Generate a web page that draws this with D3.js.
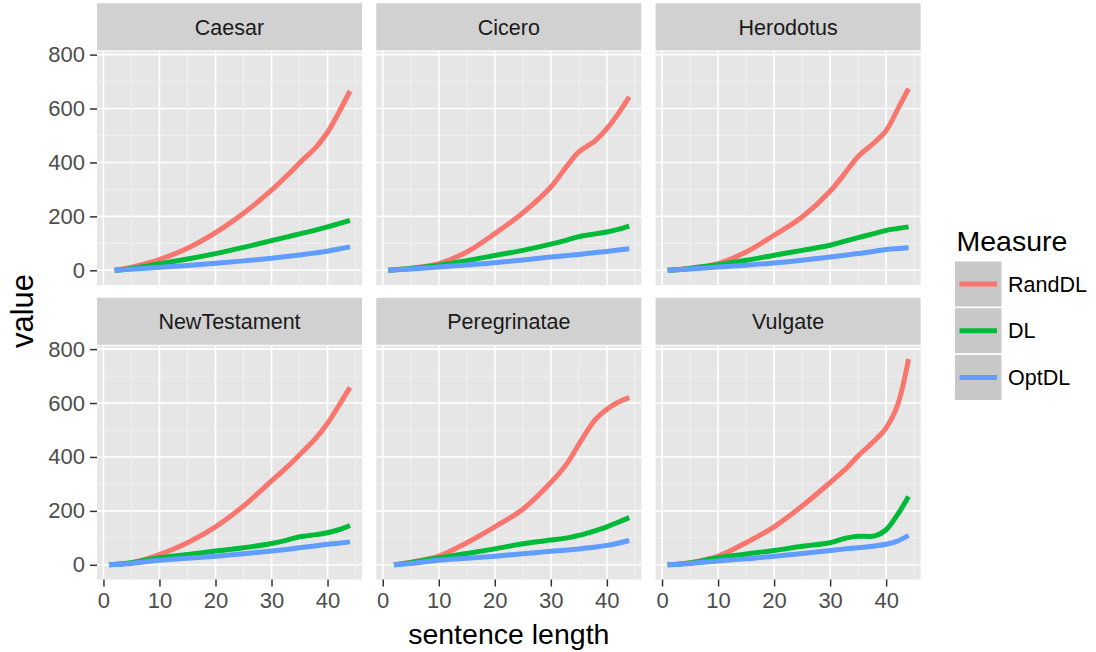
<!DOCTYPE html>
<html>
<head>
<meta charset="utf-8">
<script src="https://cdn.jsdelivr.net/npm/d3@7"></script>
<style>
  body { margin: 0; background: #fff; }
  text { font-family: "Liberation Sans", Arial, Helvetica, sans-serif; }
</style>
</head>
<body>
<div id="chart"></div>
<script>
// texts (facets) and measures
var texts = ['Caesar', 'Cicero', 'Herodotus', 'NewTestament', 'Peregrinatae', 'Vulgate'];
var measures = ['RandDL', 'DL', 'OptDL'];
var colors = ['#F8766D', '#00BA38', '#619CFF'];

var startLen = [2, 1, 1, 1, 2, 1];
var lengths = [null, 5, 10, 15, 20, 25, 30, 33, 35, 38, 40, 42, 44];

var randDL = [
  [0, 12, 40, 82, 140, 212, 297, 356, 398, 458, 512, 585, 665],
  [0, 8, 25, 68, 136, 213, 309, 390, 439, 482, 525, 580, 643],
  [0, 8, 25, 68, 130, 198, 293, 370, 422, 476, 518, 595, 674],
  [0, 8, 38, 82, 141, 218, 311, 367, 408, 472, 525, 590, 658],
  [0, 10, 32, 82, 141, 206, 305, 379, 447, 540, 577, 603, 620],
  [0, 8, 32, 82, 141, 218, 305, 360, 404, 462, 508, 590, 763]
];
var dl = [
  [0, 7, 24, 42, 62, 85, 110, 125, 135, 150, 161, 173, 185],
  [0, 7, 19, 36, 55, 74, 97, 113, 125, 135, 142, 152, 164],
  [0, 7, 21, 37, 56, 74, 93, 110, 121, 137, 148, 155, 161],
  [0, 8, 26, 38, 51, 63, 79, 93, 104, 112, 119, 130, 146],
  [0, 8, 26, 42, 59, 78, 92, 100, 109, 127, 141, 158, 175],
  [0, 7, 26, 40, 53, 69, 82, 100, 106, 107, 130, 185, 253]
];
var optDL = [
  [0, 4, 11, 18, 26, 35, 45, 52, 57, 65, 71, 79, 87],
  [0, 5, 12, 20, 28, 38, 49, 55, 59, 66, 70, 75, 80],
  [0, 5, 12, 19, 27, 37, 49, 57, 62, 71, 77, 81, 84],
  [0, 5, 17, 24, 32, 41, 51, 58, 63, 71, 76, 80, 85],
  [0, 5, 17, 24, 32, 41, 50, 55, 59, 66, 72, 80, 90],
  [0, 5, 14, 22, 32, 42, 53, 60, 63, 70, 76, 88, 109]
];
var series = [randDL, dl, optDL];

var xTicks = [0, 10, 20, 30, 40];
var xMinor = [5, 15, 25, 35, 45];
var yTicks = [0, 200, 400, 600, 800];
var yMinor = [100, 300, 500, 700];

var width = 1096, height = 652;
var panelW = 265, panelH = 233.5, stripH = 47;
var colX = [97, 376.3, 655.6];
var rowY = [51.5, 346];

var svg = d3.select('#chart').append('svg')
  .attr('width', width)
  .attr('height', height);

var x = d3.scaleLinear().domain([-1.15, 46.15]).range([0, panelW]);
var y = d3.scaleLinear().domain([-54.5, 811.5]).range([panelH, 0]);

var line = d3.line()
  .x(function(d) { return x(d[0]); })
  .y(function(d) { return y(d[1]); })
  .curve(d3.curveCatmullRom.alpha(0.5));

texts.forEach(function(name, i) {
  var col = i % 3, row = Math.floor(i / 3);
  var g = svg.append('g').attr('transform', 'translate(' + colX[col] + ',' + rowY[row] + ')');

  // strip
  g.append('rect')
    .attr('x', 0).attr('y', -stripH - 1.2)
    .attr('width', panelW).attr('height', stripH)
    .attr('fill', '#d1d1d1');
  g.append('text')
    .attr('x', panelW / 2).attr('y', -stripH / 2 - 1.2)
    .attr('dy', '0.36em')
    .attr('text-anchor', 'middle')
    .attr('font-size', 21.5)
    .attr('fill', '#1a1a1a')
    .text(name);

  // panel
  g.append('rect')
    .attr('width', panelW).attr('height', panelH)
    .attr('fill', '#e6e6e6');

  g.selectAll('.xminor').data(xMinor).enter().append('line')
    .attr('x1', function(d) { return x(d); }).attr('x2', function(d) { return x(d); })
    .attr('y1', 0).attr('y2', panelH)
    .attr('stroke', '#f4f4f4').attr('stroke-width', 0.8);
  g.selectAll('.yminor').data(yMinor).enter().append('line')
    .attr('y1', function(d) { return y(d); }).attr('y2', function(d) { return y(d); })
    .attr('x1', 0).attr('x2', panelW)
    .attr('stroke', '#f4f4f4').attr('stroke-width', 0.8);
  g.selectAll('.xmajor').data(xTicks).enter().append('line')
    .attr('x1', function(d) { return x(d); }).attr('x2', function(d) { return x(d); })
    .attr('y1', 0).attr('y2', panelH)
    .attr('stroke', '#fff').attr('stroke-width', 1.6);
  g.selectAll('.ymajor').data(yTicks).enter().append('line')
    .attr('y1', function(d) { return y(d); }).attr('y2', function(d) { return y(d); })
    .attr('x1', 0).attr('x2', panelW)
    .attr('stroke', '#fff').attr('stroke-width', 1.6);

  // curves
  series.forEach(function(s, k) {
    var pts = s[i].map(function(v, j) { return [j === 0 ? startLen[i] : lengths[j], v]; });
    g.append('path')
      .datum(pts)
      .attr('d', line)
      .attr('fill', 'none')
      .attr('stroke', colors[k])
      .attr('stroke-width', 5);
  });

  // axes
  if (col === 0) {
    var ya = g.append('g').call(d3.axisLeft(y).tickValues(yTicks).tickSize(7).tickPadding(5));
    ya.select('.domain').remove();
    ya.selectAll('line').attr('stroke', '#333').attr('stroke-width', 1.5);
    ya.selectAll('text').attr('font-size', 22).attr('fill', '#4d4d4d')
      .attr('font-family', '"Liberation Sans", Arial, sans-serif');
  }
  if (row === 1) {
    var xa = g.append('g').attr('transform', 'translate(0,' + panelH + ')')
      .call(d3.axisBottom(x).tickValues(xTicks).tickSize(7).tickPadding(6));
    xa.select('.domain').remove();
    xa.selectAll('line').attr('stroke', '#333').attr('stroke-width', 1.5);
    xa.selectAll('text').attr('font-size', 22).attr('fill', '#4d4d4d')
      .attr('font-family', '"Liberation Sans", Arial, sans-serif');
  }
});

// axis titles
svg.append('text')
  .attr('x', (colX[0] + colX[2] + panelW) / 2).attr('y', 644)
  .attr('text-anchor', 'middle')
  .attr('font-size', 28.5)
  .attr('fill', '#000')
  .text('sentence length');

svg.append('text')
  .attr('transform', 'translate(33,311) rotate(-90)')
  .attr('text-anchor', 'middle')
  .attr('font-size', 31)
  .attr('fill', '#000')
  .text('value');

// legend
var legend = svg.append('g').attr('transform', 'translate(955,0)');
legend.append('text')
  .attr('x', 1.5).attr('y', 251)
  .attr('font-size', 28.5)
  .attr('fill', '#000')
  .text('Measure');

measures.forEach(function(m, k) {
  var top = 261.5 + k * 46.7;
  legend.append('rect')
    .attr('x', 0).attr('y', top)
    .attr('width', 46.5).attr('height', 45)
    .attr('fill', '#c8c8c8');
  legend.append('line')
    .attr('x1', 4.5).attr('x2', 42)
    .attr('y1', top + 22.5).attr('y2', top + 22.5)
    .attr('stroke', colors[k])
    .attr('stroke-width', 5);
  legend.append('text')
    .attr('x', 53).attr('y', top + 22.5)
    .attr('dy', '0.36em')
    .attr('font-size', 21.5)
    .attr('fill', '#000')
    .text(m);
});
</script>
</body>
</html>
